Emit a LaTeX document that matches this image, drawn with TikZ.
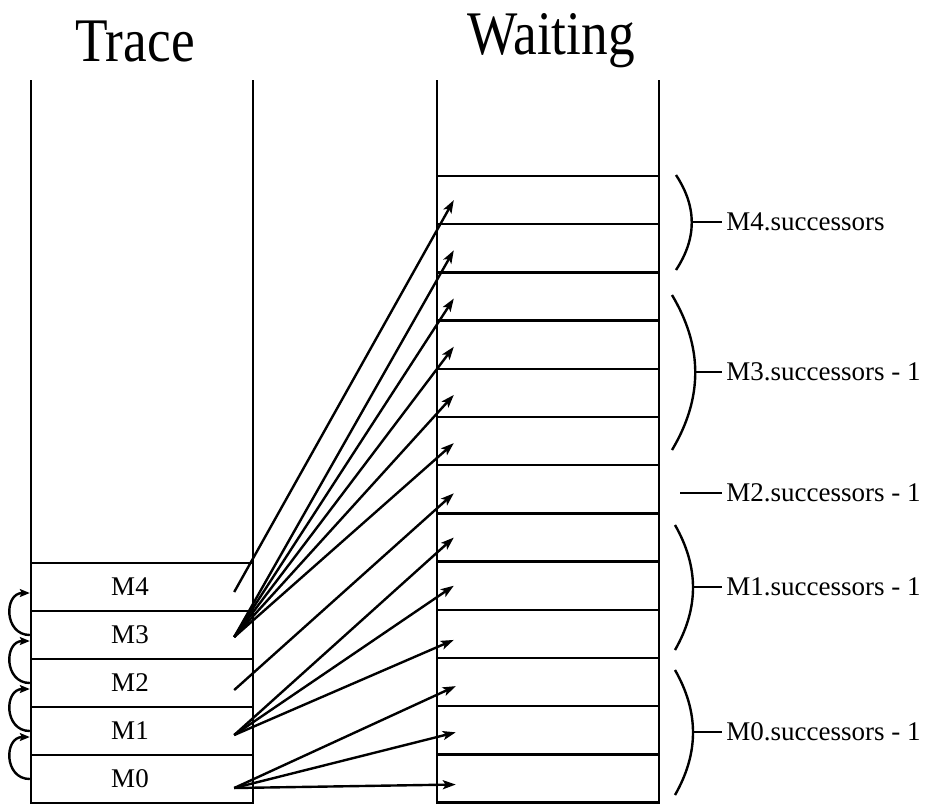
\documentclass[tikz,border=0pt]{standalone}
\usepackage{fontspec}
\setmainfont{Liberation Serif}
\newfontfamily\titlefont[FakeStretch=0.86]{Liberation Serif}
\usetikzlibrary{arrows.meta}

\begin{document}
\begin{tikzpicture}[x=0.5pt, y=-0.5pt,
        cell/.style={rectangle, draw, line width=1.2pt, minimum width=111pt, minimum height=24pt, inner sep=0pt},
        wcell/.style={cell, minimum height=24.1pt},
        lbl/.style={xshift=-6pt, font=\fontsize{13.5}{15}\selectfont},
        title/.style={font=\titlefont\fontsize{31}{35}\selectfont, anchor=base},
        succ/.style={anchor=west, inner sep=2pt, font=\fontsize{13.5}{15}\selectfont},
        wall/.style={line width=1.2pt},
        arrow/.style={-{Stealth[length=6.5pt, width=4.5pt, inset=1.5pt]}, line width=1.2pt},
        loop/.style={-{Stealth[length=5pt, width=4pt, inset=1pt]}, line width=1.2pt},
        brace/.style={line width=1.2pt}
    ]
        \useasboundingbox (0,0) rectangle (925,805);

        % column titles and walls
        \node[title] (trace) at (135,61) {Trace};
        \node[title] (waiting) at (551,54) {Waiting};
        \draw[wall] (31,80) -- (31,803);
        \draw[wall] (253,80) -- (253,803);
        \draw[wall] (437,80) -- (437,803);
        \draw[wall] (659,80) -- (659,803);

        % trace stack
        \node[cell, label={[lbl]center:M4}] (t4) at (142,587) {};
        \node[cell, label={[lbl]center:M3}] (t3) at (142,635) {};
        \node[cell, label={[lbl]center:M2}] (t2) at (142,683) {};
        \node[cell, label={[lbl]center:M1}] (t1) at (142,731) {};
        \node[cell, label={[lbl]center:M0}] (t0) at (142,779) {};

        % waiting queue
        \node[wcell] (w1) at (548,200.1) {};
        \node[wcell] (w2) at (548,248.3) {};
        \node[wcell] (w3) at (548,296.5) {};
        \node[wcell] (w4) at (548,344.7) {};
        \node[wcell] (w5) at (548,392.9) {};
        \node[wcell] (w6) at (548,441.1) {};
        \node[wcell] (w7) at (548,489.3) {};
        \node[wcell] (w8) at (548,537.5) {};
        \node[wcell] (w9) at (548,585.7) {};
        \node[wcell] (w10) at (548,633.9) {};
        \node[wcell] (w11) at (548,682.1) {};
        \node[wcell] (w12) at (548,730.3) {};
        \node[wcell] (w13) at (548,778.5) {};

        % arrow starts inside the trace cells
        \coordinate (m4) at ([shift={(-10pt,-2.5pt)}]t4.east);
        \coordinate (m3) at ([shift={(-10pt,-1pt)}]t3.east);
        \coordinate (m2) at ([shift={(-10pt,-3.5pt)}]t2.east);
        \coordinate (m1) at ([shift={(-10pt,-2pt)}]t1.east);
        \coordinate (m0) at ([shift={(-10pt,-4.5pt)}]t0.east);

        \draw[arrow] (m4) -- ([shift={(9pt,0pt)}]w1.west);
        \draw[arrow] (m3) -- ([shift={(9pt,-1pt)}]w2.west);
        \draw[arrow] (m3) -- ([shift={(9pt,-1pt)}]w3.west);
        \draw[arrow] (m3) -- ([shift={(9pt,-1pt)}]w4.west);
        \draw[arrow] (m3) -- ([shift={(9pt,-1pt)}]w5.west);
        \draw[arrow] (m3) -- ([shift={(9pt,-1pt)}]w6.west);
        \draw[arrow] (m2) -- ([shift={(9pt,-2pt)}]w7.west);
        \draw[arrow] (m1) -- ([shift={(9pt,0pt)}]w8.west);
        \draw[arrow] (m1) -- ([shift={(9pt,0pt)}]w9.west);
        \draw[arrow] (m1) -- ([shift={(9pt,-3pt)}]w10.west);
        \draw[arrow] (m0) -- ([shift={(10pt,-2pt)}]w11.west);
        \draw[arrow] (m0) -- ([shift={(10pt,-1pt)}]w12.west);
        \draw[arrow] (m0) -- ([shift={(10pt,-3pt)}]w13.west);

        % back links between trace entries
        \draw[loop] ([yshift=0pt]t3.west) .. controls +(-13pt,0) and +(-13pt,0) .. ([yshift=-3pt]t4.west);
        \draw[loop] ([yshift=0pt]t2.west) .. controls +(-13pt,0) and +(-13pt,0) .. ([yshift=-3pt]t3.west);
        \draw[loop] ([yshift=0pt]t1.west) .. controls +(-13pt,0) and +(-13pt,0) .. ([yshift=-3pt]t2.west);
        \draw[loop] ([yshift=0pt]t0.west) .. controls +(-13pt,0) and +(-13pt,0) .. ([yshift=-3pt]t1.west);

        % successor groups
        \node[succ] (s4) at (722,222) {M4.successors};
        \node[succ] (s3) at (722,372) {M3.successors - 1};
        \node[succ] (s2) at (722,493) {M2.successors - 1};
        \node[succ] (s1) at (722,587) {M1.successors - 1};
        \node[succ] (s0) at (722,732) {M0.successors - 1};

        \draw[brace] (676,175) .. controls (697,207) and (697,238) .. (676,270);
        \draw[brace] (672,295) .. controls (703,347) and (703,398) .. (672,450);
        \draw[brace] (675,525) .. controls (699,567) and (699,608) .. (675,650);
        \draw[brace] (675,670) .. controls (699,712) and (699,753) .. (675,795);
        \draw[brace] (692,222) -- (s4.west);
        \draw[brace] (695,372) -- (s3.west);
        \draw[brace] (680,493) -- (s2.west);
        \draw[brace] (693,587) -- (s1.west);
        \draw[brace] (693,732) -- (s0.west);
    \end{tikzpicture}
\end{document}
